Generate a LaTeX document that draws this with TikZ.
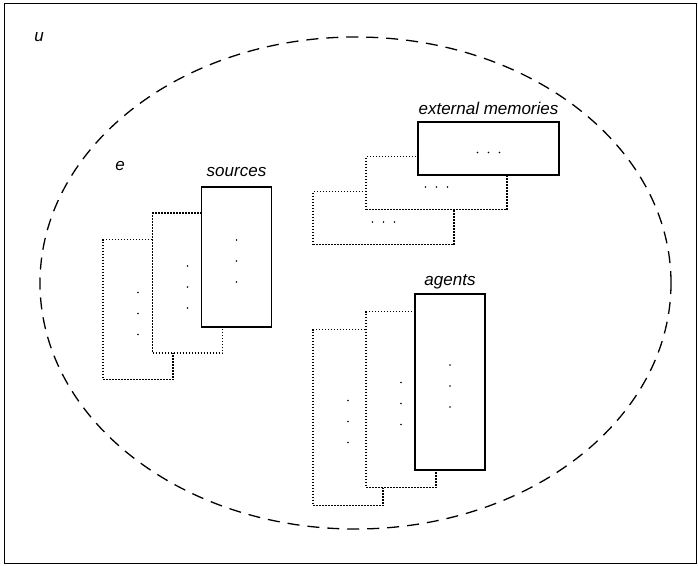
\documentclass[tikz,border=0pt]{standalone}
\usepackage{fontspec}
\setmainfont{Liberation Sans}
\usetikzlibrary{positioning,calc,shapes.geometric}

\begin{document}
\begin{tikzpicture}[x=1pt, y=-1pt,
    front/.style={draw, line width=1.3pt, fill=white, inner sep=0pt},
    back/.style={draw, line width=1.4pt, dash pattern=on 1.5pt off 1.5pt, fill=white, inner sep=0pt},
    tall/.style={minimum width=70pt, minimum height=140pt},
    taller/.style={minimum width=70pt, minimum height=176pt},
    wide/.style={minimum width=141pt, minimum height=53pt},
    lbl/.style={font=\fontsize{17}{20}\selectfont\itshape, inner sep=0pt},
    dot/.style={circle, fill=black, inner sep=0pt, minimum size=1.6pt}]
    \useasboundingbox (0,0) rectangle (698,565);
    \draw[line width=1pt] (4,3) rectangle (696,563);

    % environment
    \node[draw, ellipse, line width=1.3pt, dash pattern=on 12pt off 8pt,
          minimum width=631pt, minimum height=492pt, inner sep=0pt] (env) at (355.5,283) {};
    \node[lbl] (u) at (39,37) {u};
    \node[lbl] (e) at (120,166) {e};

    % sources
    \node[back, tall] (src3) at (138,309.5) {};
    \node[back, tall] (src2) at (187.5,283) {};
    \node[front, tall] (src1) at (236.5,257) {};
    \node[lbl, above=9pt of src1] (srclbl) {sources};

    % external memories
    \node[back, wide] (mem3) at (383.5,218) {};
    \node[back, wide] (mem2) at (436.5,183) {};
    \node[front, wide] (mem1) at (488.5,148.5) {};
    \node[lbl, above=6.5pt of mem1] (memlbl) {external memories};

    % agents
    \node[back, taller] (ag3) at (348,417.5) {};
    \node[back, taller] (ag2) at (401,399.5) {};
    \node[front, taller] (ag1) at (450,382) {};
    \node[lbl, above=4pt of ag1] (aglbl) {agents};

    % the dots inside the boxes
    \foreach \b in {src1,src2,src3,ag1,ag2,ag3}
        \foreach \d in {-21,0,21}
            \node[dot] at ($(\b.center)+(0,4+\d)$) {};
    \foreach \b in {mem1,mem2,mem3}
        \foreach \d in {-11,0,11}
            \node[dot] at ($(\b.center)+(\d,4)$) {};
\end{tikzpicture}
\end{document}
